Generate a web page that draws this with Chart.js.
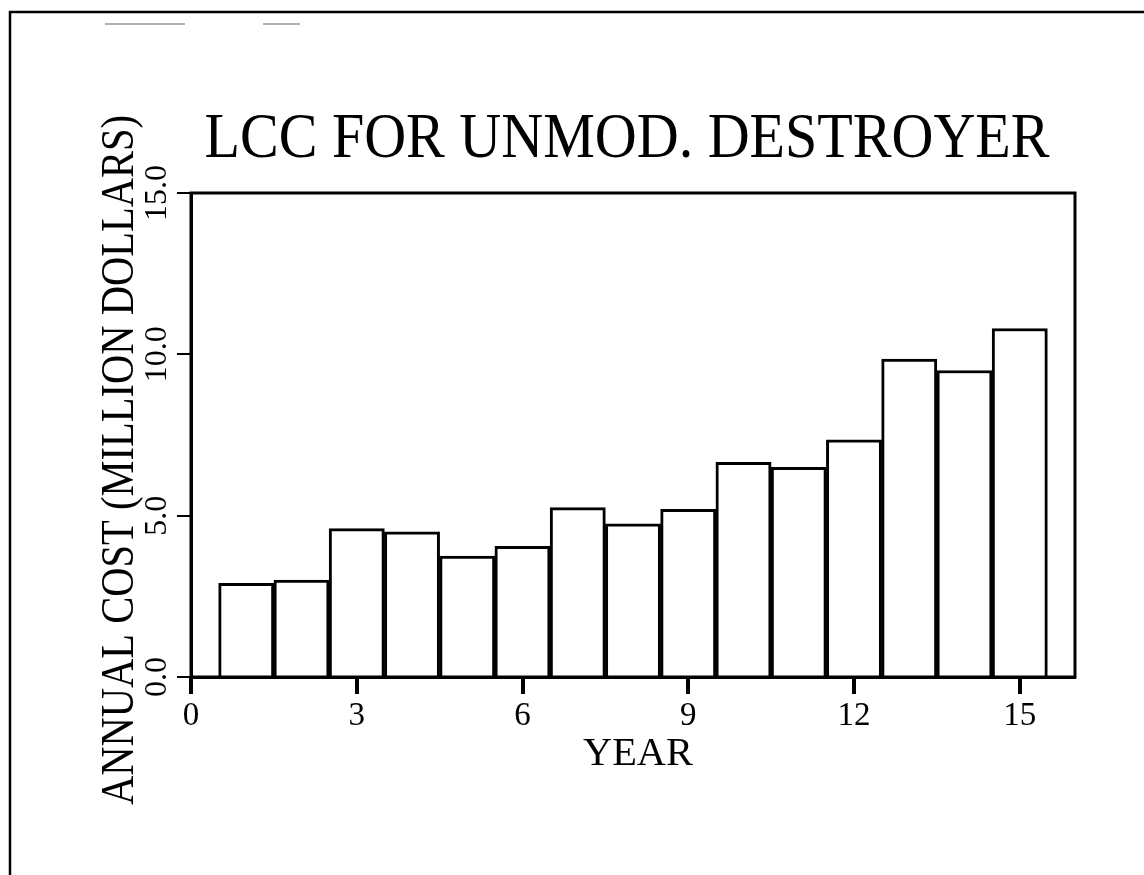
<!DOCTYPE html>
<html>
<head>
<meta charset="utf-8">
<script src="https://cdn.jsdelivr.net/npm/chart.js@4.4.1/dist/chart.umd.min.js"></script>
<style>
  body { margin: 0; background: #fff; }
  canvas { display: block; }
</style>
</head>
<body>
<canvas id="lccChart" width="1144" height="875"></canvas>
<script>
// Data
const years = [1, 2, 3, 4, 5, 6, 7, 8, 9, 10, 11, 12, 13, 14, 15];
const annualCost = [2.9, 3.0, 4.6, 4.5, 3.75, 4.05, 5.25, 4.75, 5.2, 6.65, 6.5, 7.35, 9.85, 9.5, 10.8];
const xTicks = [0, 3, 6, 9, 12, 15];
const yTicks = [0, 5, 10, 15];

const titleText = 'LCC FOR UNMOD. DESTROYER';
const yTitleText = 'ANNUAL COST (MILLION DOLLARS)';
const xTitleText = 'YEAR';
const serif = "'Liberation Serif', 'DejaVu Serif', serif";

// Draw text squeezed to a given width (the original lettering is condensed)
function fitText(ctx, text, x, y, width, size, rotate) {
  ctx.save();
  ctx.font = size + 'px ' + serif;
  const w = ctx.measureText(text).width;
  ctx.translate(x, y);
  if (rotate) ctx.rotate(-Math.PI / 2);
  ctx.scale(width / w, 1);
  ctx.textAlign = 'center';
  ctx.textBaseline = 'alphabetic';
  ctx.fillStyle = '#000';
  ctx.fillText(text, 0, 0);
  ctx.restore();
}

const framePlugin = {
  id: 'frame',
  beforeDraw(chart) {
    const ctx = chart.ctx;
    ctx.save();
    ctx.fillStyle = '#fff';
    ctx.fillRect(0, 0, chart.width, chart.height);
    // page border of the scan
    ctx.strokeStyle = '#000';
    ctx.lineWidth = 2.5;
    ctx.beginPath();
    ctx.moveTo(10, 875);
    ctx.lineTo(10, 12);
    ctx.lineTo(1144, 12);
    ctx.stroke();
    ctx.strokeStyle = '#999';
    ctx.lineWidth = 1.5;
    ctx.beginPath();
    ctx.moveTo(105, 24);
    ctx.lineTo(185, 24);
    ctx.moveTo(263, 24);
    ctx.lineTo(300, 24);
    ctx.stroke();
    ctx.restore();
  },
  afterDraw(chart) {
    const ctx = chart.ctx;
    const a = chart.chartArea;
    const xs = chart.scales.x;
    ctx.save();
    ctx.globalCompositeOperation = 'source-over';
    ctx.globalAlpha = 1;
    ctx.setLineDash([]);
    ctx.strokeStyle = '#000';
    ctx.lineWidth = 3;
    ctx.strokeRect(a.left, a.top, a.right - a.left, a.bottom - a.top);
    // tick marks below the x axis
    ctx.fillStyle = 'rgb(0,0,0)';
    xTicks.forEach(v => {
      const px = Math.round(xs.getPixelForValue(v));
      ctx.fillRect(px - 2, xs.top, 4, 17);
    });
    ctx.restore();
    fitText(ctx, titleText, 627, 157, 845, 64, false);
    fitText(ctx, yTitleText, 133, 460, 690, 46, true);
    fitText(ctx, xTitleText, 638, 765, 110, 40, false);
  }
};

new Chart(document.getElementById('lccChart'), {
  type: 'bar',
  data: {
    datasets: [{
      data: years.map((yr, i) => ({ x: yr, y: annualCost[i] })),
      backgroundColor: '#fff',
      borderColor: '#000',
      borderWidth: 3,
      barPercentage: 1,
      categoryPercentage: 1,
      grouped: false
    }]
  },
  options: {
    responsive: false,
    devicePixelRatio: 1,
    animation: false,
    layout: { padding: { top: 193, right: 69, left: 0, bottom: 0 } },
    plugins: {
      legend: { display: false },
      tooltip: { enabled: false }
    },
    scales: {
      x: {
        type: 'linear',
        min: 0,
        max: 16,
        offset: false,
        afterBuildTicks: s => { s.ticks = xTicks.map(v => ({ value: v })); },
        afterFit: s => { s.height = 198; },
        grid: { offset: false, drawOnChartArea: false, drawTicks: true, tickLength: 16, tickWidth: 3, tickColor: '#000', color: '#000', lineWidth: 2 },
        border: { display: true, color: '#000', width: 3 },
        ticks: {
          color: '#000',
          padding: 4,
          maxRotation: 0,
          font: { family: serif, size: 33 }
        }
      },
      y: {
        min: 0,
        max: 15,
        afterBuildTicks: s => { s.ticks = yTicks.map(v => ({ value: v })); },
        afterFit: s => { s.width = 191; },
        grid: { drawOnChartArea: false, drawTicks: true, tickLength: 14, color: '#000', lineWidth: 2 },
        border: { display: true, color: '#000', width: 3 },
        ticks: {
          color: '#000',
          minRotation: 90,
          maxRotation: 90,
          crossAlign: 'center',
          padding: -9,
          callback: v => v.toFixed(1),
          font: { family: serif, size: 32 }
        }
      }
    }
  },
  plugins: [framePlugin]
});
</script>
</body>
</html>
